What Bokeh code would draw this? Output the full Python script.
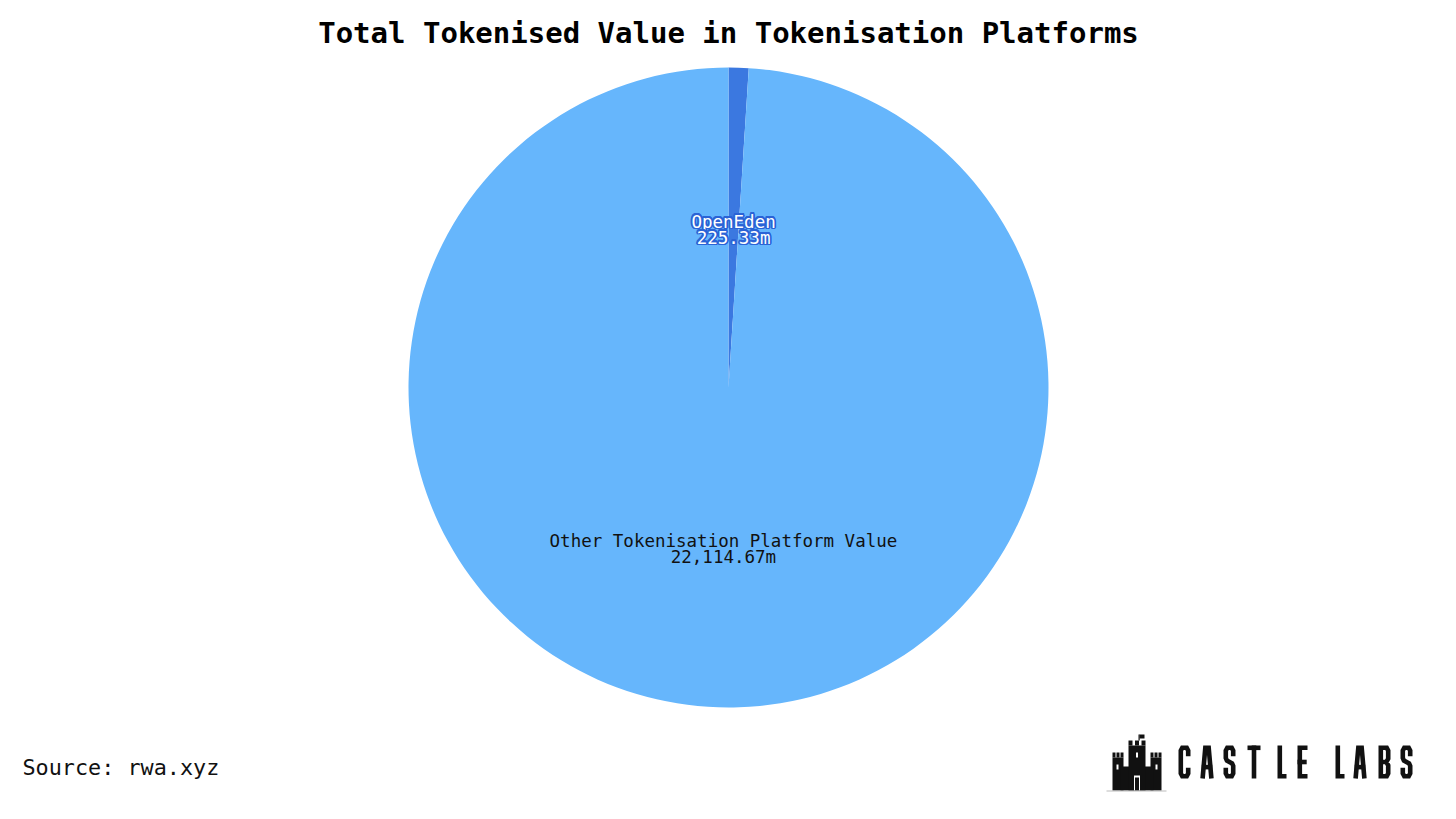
import numpy as np
from bokeh.plotting import figure
from bokeh.models import Range1d, ColumnDataSource
from bokeh.core.properties import value
from bokeh.embed import file_html
from bokeh.resources import INLINE

# ---- data ----
categories = ["OpenEden", "Other Tokenisation Platform Value"]
values_m = [225.33, 22114.67]
colors = ["#3b78e0", "#66b6fc"]
label_text_colors = ["#ffffff", "#111111"]
label_outline = ["#2a63d6", None]
title_text = "Total Tokenised Value in Tokenisation Platforms"
source_text = "Source: rwa.xyz"
logo_text = "CASTLE LABS"

W, H = 1456, 819
MONO = "DejaVu Sans Mono"

def fy(wy):  # window y -> figure data y
    return H - wy

def fx(wx):
    return wx

p = figure(width=W, height=H, output_backend="svg", toolbar_location=None,
           x_range=Range1d(0, W), y_range=Range1d(0, H), min_border=0,
           background_fill_color="white", border_fill_color="white")
p.axis.visible = False
p.grid.visible = False
p.outline_line_color = None

# ---- pie ----
cx, cy, r = fx(728), fy(387), 320
vals = np.array(values_m)
frac = vals / vals.sum()
ends = np.pi / 2 - 2 * np.pi * np.cumsum(frac)
starts = np.concatenate([[np.pi / 2], ends[:-1]])
mids = (starts + ends) / 2

src = ColumnDataSource(dict(start=starts, end=ends, color=colors,
                            x=[cx] * len(vals), y=[cy] * len(vals)))
p.wedge(x="x", y="y", radius=r, start_angle="start", end_angle="end",
        direction="clock", fill_color="color", line_color=None, source=src)

def fmt(v):
    return f"{v:,.2f}m"

lx = cx + 0.5 * r * np.cos(mids)
ly = cy + 0.5 * r * np.sin(mids)
LFS = "17.5px"
ang = np.linspace(0, 2 * np.pi, 16, endpoint=False)
offs = [(1.6 * np.cos(a), 1.6 * np.sin(a)) for a in ang]
for i, cat in enumerate(categories):
    lines = [(cat, ly[i] + 6), (fmt(values_m[i]), ly[i] - 10)]
    for txt, yy in lines:
        if label_outline[i]:
            p.text(x=[lx[i] + dx for dx, dy in offs], y=[yy + dy for dx, dy in offs],
                   text=[txt] * len(offs), text_font=value(MONO),
                   text_font_size=LFS, text_color=label_outline[i],
                   text_align="center", text_baseline="middle")
        p.text(x=[lx[i]], y=[yy], text=[txt], text_font=value(MONO),
               text_font_size=LFS, text_color=label_text_colors[i],
               text_align="center", text_baseline="middle")

# ---- title ----
p.text(x=[fx(728)], y=[fy(32)], text=[title_text], text_font=value(MONO),
       text_font_style="bold", text_font_size="29px", text_color="#000000",
       text_align="center", text_baseline="middle")

# ---- source ----
p.text(x=[fx(22)], y=[fy(767)], text=[source_text], text_font=value(MONO),
       text_font_size="21.8px", text_color="#111111",
       text_align="left", text_baseline="middle")

# ---- logo: castle icon ----
blocks = [
    (1112, 1123, 757, 790), (1150, 1161, 757, 790), (1120, 1153, 766, 790),
    (1128, 1145, 745, 790),
    (1112, 1115, 752, 757), (1116, 1119, 752, 757), (1120, 1123, 752, 757),
    (1150, 1153, 752, 757), (1154, 1157, 752, 757), (1158, 1161, 752, 757),
    (1128, 1132, 740, 745), (1134.5, 1138.5, 740, 745), (1141, 1145, 740, 745),
    (1138, 1139.2, 734, 740), (1139, 1144, 734, 738),
]
p.quad(left=[fx(b[0]) for b in blocks], right=[fx(b[1]) for b in blocks],
       top=[fy(b[2]) for b in blocks], bottom=[fy(b[3]) for b in blocks],
       fill_color="#111111", line_color=None)
whites = [(1133.5, 1139.5, 775, 790), (1116, 1118, 764, 769), (1155, 1157, 764, 769),
          (1135.5, 1137.5, 752, 757)]
p.quad(left=[fx(b[0]) for b in whites], right=[fx(b[1]) for b in whites],
       top=[fy(b[2]) for b in whites], bottom=[fy(b[3]) for b in whites],
       fill_color="white", line_color=None)
p.quad(left=[fx(1134.5)], right=[fx(1138.5)], top=[fy(777)], bottom=[fy(790)],
       fill_color="#111111", line_color=None)
p.segment(x0=[fx(1106)], x1=[fx(1166)], y0=[fy(790.5)], y1=[fy(790.5)],
          line_color="#bbbbbb", line_width=1)

# ---- logo: condensed stroke lettering ----
shapes = {
    "C": [[(1, .22), (1, .1), (.8, 0), (.2, 0), (0, .1), (0, .9), (.2, 1), (.8, 1), (1, .9), (1, .78)]],
    "A": [[(0, 1), (.3, 0), (.7, 0), (1, 1)], [(.15, .68), (.85, .68)]],
    "S": [[(1, .22), (1, .1), (.8, 0), (.2, 0), (0, .1), (0, .36), (.15, .45), (.85, .55),
           (1, .64), (1, .9), (.8, 1), (.2, 1), (0, .9), (0, .78)]],
    "T": [[(0, 0), (1, 0)], [(.5, 0), (.5, 1)]],
    "L": [[(0, 0), (0, 1), (1, 1)]],
    "E": [[(1, 0), (0, 0), (0, 1), (1, 1)], [(0, .5), (.85, .5)]],
    "B": [[(0, .5), (.75, .5), (1, .38), (1, .1), (.8, 0), (0, 0), (0, 1), (.8, 1), (1, .9), (1, .62), (.75, .5)]],
}
letter_left = [1178, 1200, 1223, 1247, 1277, 1297, 1335, 1353, 1378, 1400]
letter_w = [12, 13, 12, 13, 9, 10, 9, 13, 12, 12]
letters = [c for c in logo_text if c != " "]
SW = 4.6
top_y, bot_y = 745, 778
xs, ys = [], []
for ch, left, w in zip(letters, letter_left, letter_w):
    x0, x1 = left + SW / 2, left + w - SW / 2
    y0, y1 = top_y + SW / 2, bot_y - SW / 2
    for stroke in shapes[ch]:
        xs.append([fx(x0 + u * (x1 - x0)) for u, v in stroke])
        ys.append([fy(y0 + v * (y1 - y0)) for u, v in stroke])
p.multi_line(xs=xs, ys=ys, line_color="#111111", line_width=SW,
             line_join="miter", line_cap="square")

open("out.html", "w").write(file_html(p, INLINE))
